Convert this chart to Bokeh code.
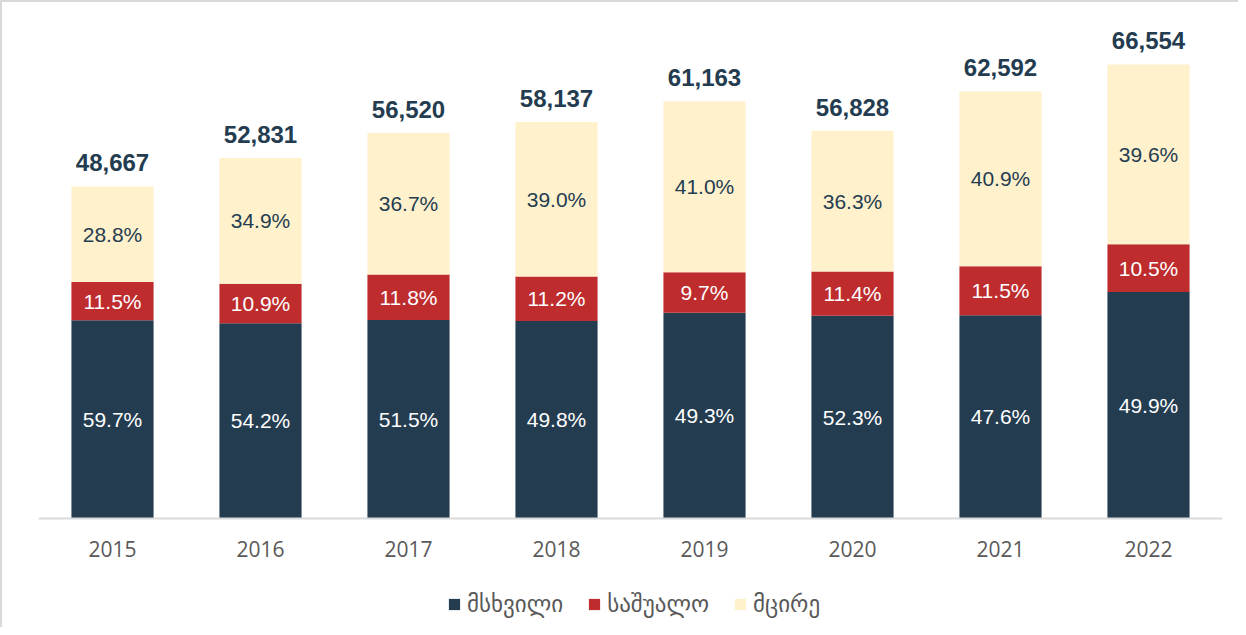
from bokeh.plotting import figure
from bokeh.models import ColumnDataSource, Legend, LegendItem, Range1d, FactorRange, LabelSet
from bokeh.core.properties import value
from bokeh.embed import file_html
from bokeh.resources import INLINE

years = ["2015", "2016", "2017", "2018", "2019", "2020", "2021", "2022"]
totals = [48667, 52831, 56520, 58137, 61163, 56828, 62592, 66554]
large_pct = [59.7, 54.2, 51.5, 49.8, 49.3, 52.3, 47.6, 49.9]
medium_pct = [11.5, 10.9, 11.8, 11.2, 9.7, 11.4, 11.5, 10.5]
small_pct = [28.8, 34.9, 36.7, 39.0, 41.0, 36.3, 40.9, 39.6]
series_names = ["მსხვილი", "საშუალო", "მცირე"]

colors = ["#243c50", "#be2c2e", "#fff1cc"]
text_colors = ["#ffffff", "#ffffff", "#243c50"]

pcts = [large_pct, medium_pct, small_pct]
bottoms = [0.0] * len(years)
data = {"year": years, "total": totals,
        "total_label": [f"{t:,}" for t in totals]}
for i, pc in enumerate(pcts):
    vals = [t * p / 100 for t, p in zip(totals, pc)]
    data[f"b{i}"] = list(bottoms)
    data[f"t{i}"] = [b + v for b, v in zip(bottoms, vals)]
    data[f"m{i}"] = [b + v / 2 for b, v in zip(bottoms, vals)]
    data[f"l{i}"] = [f"{p:.1f}%" for p in pc]
    bottoms = [b + v for b, v in zip(bottoms, vals)]
src = ColumnDataSource(data)

p = figure(width=1238, height=627, x_range=FactorRange(*years),
           y_range=Range1d(-16270, 72850), output_backend="svg",
           toolbar_location=None, min_border_left=36, min_border_right=18,
           min_border_top=19, min_border_bottom=0)
p.styles = {"border-left": "2px solid #d9d9d9", "border-top": "2px solid #d9d9d9"}
p.outline_line_color = None
p.xgrid.grid_line_color = None
p.ygrid.grid_line_color = None
p.yaxis.visible = False
p.xaxis.fixed_location = 0
p.xaxis.axis_line_color = "#d9d9d9"
p.xaxis.axis_line_width = 2
p.xaxis.major_tick_line_color = None
p.xaxis.minor_tick_line_color = None
p.xaxis.major_label_text_font = "Open Sans"
p.xaxis.major_label_text_font_size = "21px"
p.xaxis.major_label_text_color = "#595959"
p.xaxis.major_label_standoff = 16
p.x_range.range_padding = 0.0

renderers = []
for i in range(3):
    r = p.vbar(x="year", bottom=f"b{i}", top=f"t{i}", width=0.555, source=src,
               fill_color=colors[i], line_color=None)
    renderers.append(r)
    lab = LabelSet(x="year", y=f"m{i}", text=f"l{i}", source=src,
                   text_align="center", text_baseline="middle",
                   text_font=value("Liberation Sans"), text_font_size="21px",
                   text_color=text_colors[i])
    p.add_layout(lab)

tot = LabelSet(x="year", y="total", text="total_label", source=src,
               text_align="center", text_baseline="bottom", y_offset=15,
               text_font=value("Liberation Sans"), text_font_size="24px",
               text_font_style="bold", text_color="#243c50")
p.add_layout(tot)

legend = Legend(items=[LegendItem(label=series_names[i], renderers=[renderers[i]]) for i in range(3)],
                orientation="horizontal", location=(409, 12))
legend.label_text_font = "DejaVu Sans"
legend.label_text_font_size = "23px"
legend.label_text_color = "#595959"
legend.glyph_width = 14
legend.glyph_height = 14
legend.label_standoff = 6
legend.spacing = 24
legend.padding = 0
legend.margin = 0
legend.border_line_color = None
legend.background_fill_alpha = 0
p.add_layout(legend)

open("out.html", "w").write(file_html(p, INLINE))
